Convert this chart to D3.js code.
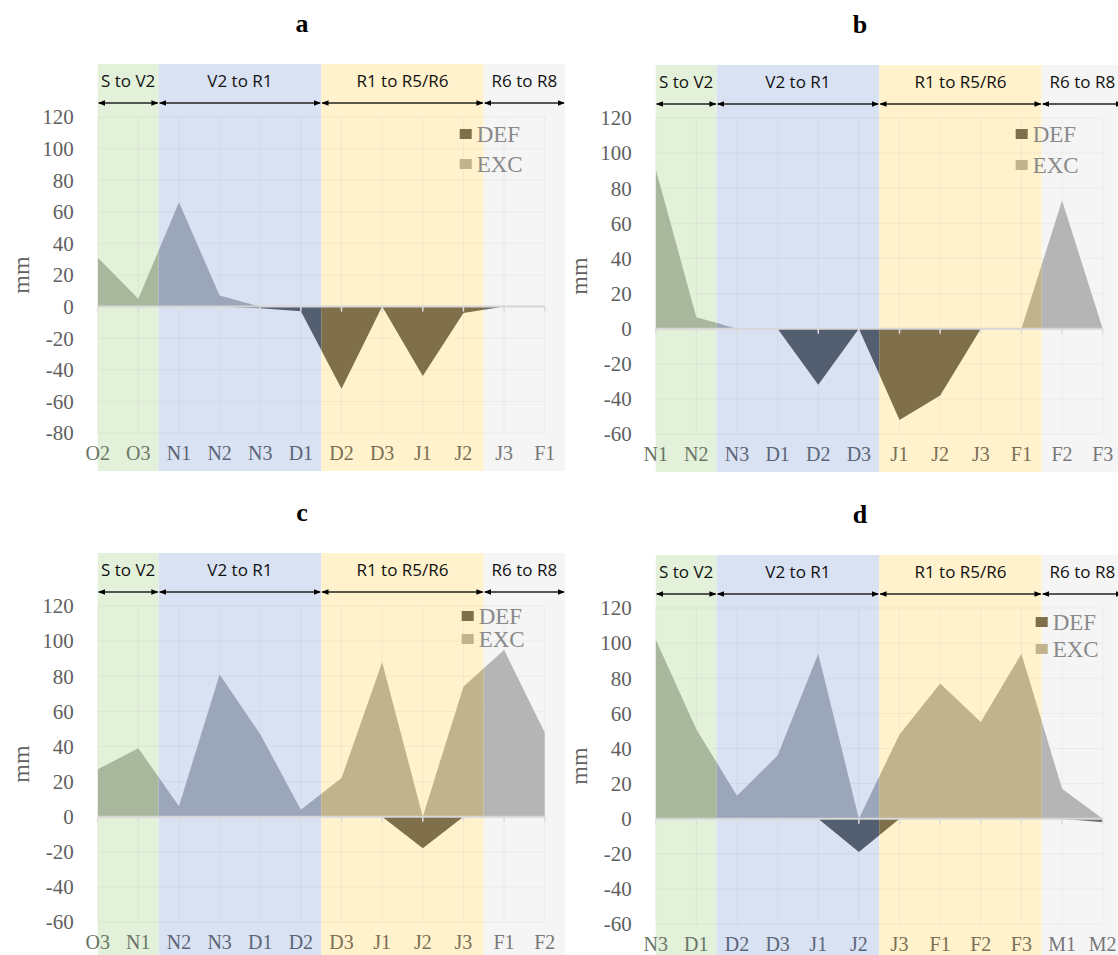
<!DOCTYPE html>
<html>
<head>
<meta charset="utf-8">
<script src="https://cdn.jsdelivr.net/npm/d3@7"></script>
<style>
  body { margin: 0; background: #fff; }
  svg { display: block; }
</style>
</head>
<body>
<div class="canvas"></div>
<script>
// ---- data ----
const catsA = ["O2","O3","N1","N2","N3","D1","D2","D3","J1","J2","J3","F1"];
const excA  = [31, 5, 66, 7, 0, 0, 0, 0, 0, 0, 0, 0];
const defA  = [0, 0, 0, 0, -1, -3, -52, 0, -44, -4, 0, 0];

const catsB = ["N1","N2","N3","D1","D2","D3","J1","J2","J3","F1","F2","F3"];
const excB  = [91, 6.5, 0, 0, 0, 0, 0, 0, 0, 0, 73, 0];
const defB  = [0, 0, 0, 0, -32, 0, -52, -38, 0, 0, 0, 0];

const catsC = ["O3","N1","N2","N3","D1","D2","D3","J1","J2","J3","F1","F2"];
const excC  = [27, 39, 6, 81, 47, 4, 22, 88, 0, 74, 95, 48];
const defC  = [0, 0, 0, 0, 0, 0, 0, 0, -18, 0, 0, 0];

const catsD = ["N3","D1","D2","D3","J1","J2","J3","F1","F2","F3","M1","M2"];
const excD  = [102, 51, 13, 36, 94, 0, 48, 77, 55, 94, 17, 0];
const defD  = [0, 0, 0, 0, 0, -19, 0, 0, 0, 0, 0, -2];

const ticksA = [120, 100, 80, 60, 40, 20, 0, -20, -40, -60, -80];
const ticksB = [120, 100, 80, 60, 40, 20, 0, -20, -40, -60];

const stageNames = ["S to V2", "V2 to R1", "R1 to R5/R6", "R6 to R8"];
// stage limits in category steps (first point = 0)
const stageEdges = [0, 1.5, 5.5, 9.5, 11.5];
const seriesNames = ["DEF", "EXC"];

// ---- styles ----
const bandFill  = ["#e3f1da", "#d9e2f3", "#fff2cc", "#f5f5f5"];
const excFill   = ["#a9b89c", "#9ba6ba", "#c1b38c", "#b5b5b5"];
const defFill   = ["#5d6a55", "#535e70", "#7f704b", "#707070"];
const labelFill = ["#6a7566", "#5c6577", "#7a6f55", "#777777"];

const width = 1118, height = 955;
const plotW = 447, plotH = 316;

const panels = [
  {id: "a", cats: catsA, exc: excA, def: defA, ticks: ticksA, ox: 0,   top: 117, leg: [362, 17, 47]},
  {id: "b", cats: catsB, exc: excB, def: defB, ticks: ticksB, ox: 558, top: 118, leg: [360, 16, 47]},
  {id: "c", cats: catsC, exc: excC, def: defC, ticks: ticksB, ox: 0,   top: 606, leg: [364, 10, 33]},
  {id: "d", cats: catsD, exc: excD, def: defD, ticks: ticksB, ox: 558, top: 608, leg: [380, 14, 41]}
];

const svg = d3.select(".canvas")
  .append("svg")
  .attr("width", width)
  .attr("height", height);

const defs = svg.append("defs");
defs.append("marker")
  .attr("id", "arrow")
  .attr("viewBox", "0 0 10 10")
  .attr("refX", 9).attr("refY", 5)
  .attr("markerWidth", 7).attr("markerHeight", 7)
  .attr("markerUnits", "userSpaceOnUse")
  .attr("orient", "auto-start-reverse")
  .append("path")
  .attr("d", "M0,1 L10,5 L0,9 Z")
  .attr("fill", "#000");

const serif = "'Liberation Serif', 'Times New Roman', serif";

panels.forEach(p => {
  const x0 = 97.7 + p.ox;
  const bottom = p.top + plotH;
  const n = p.cats.length;

  const x = d3.scalePoint().domain(p.cats).range([x0, x0 + plotW]);
  const xi = d3.scaleLinear().domain([0, n - 1]).range([x0, x0 + plotW]);
  const y = d3.scaleLinear()
    .domain([d3.min(p.ticks), d3.max(p.ticks)])
    .range([bottom, p.top]);

  const g = svg.append("g");
  const bandTop = p.top - 53;
  const bandBottom = bottom + 38;
  const bandOf = px => {
    for (let b = 0; b < 4; b++) if (px < xi(stageEdges[b + 1])) return b;
    return 3;
  };

  // stage backgrounds
  g.selectAll(".band")
    .data(stageNames)
    .enter()
    .append("rect")
    .attr("x", (d, i) => xi(stageEdges[i]))
    .attr("width", (d, i) => xi(stageEdges[i + 1]) - xi(stageEdges[i]))
    .attr("y", bandTop)
    .attr("height", bandBottom - bandTop)
    .attr("fill", (d, i) => bandFill[i]);

  // grid
  g.selectAll(".hgrid")
    .data(p.ticks)
    .enter()
    .append("line")
    .attr("x1", x0).attr("x2", x0 + plotW)
    .attr("y1", d => y(d)).attr("y2", d => y(d))
    .attr("stroke", "#000").attr("stroke-opacity", 0.045);
  g.selectAll(".vgrid")
    .data(p.cats)
    .enter()
    .append("line")
    .attr("x1", d => x(d)).attr("x2", d => x(d))
    .attr("y1", p.top).attr("y2", bottom)
    .attr("stroke", "#000").attr("stroke-opacity", 0.045);

  // areas, coloured by the stage they fall in
  const exc = d3.area().x((d, i) => xi(i)).y0(y(0)).y1(d => y(d));
  stageNames.forEach((s, b) => {
    const cid = `clip-${p.id}-${b}`;
    defs.append("clipPath").attr("id", cid)
      .append("rect")
      .attr("x", xi(stageEdges[b])).attr("y", 0)
      .attr("width", xi(stageEdges[b + 1]) - xi(stageEdges[b]))
      .attr("height", height);
    const cg = g.append("g").attr("clip-path", `url(#${cid})`);
    cg.append("path").datum(p.exc).attr("d", exc).attr("fill", excFill[b]);
    cg.append("path").datum(p.def).attr("d", exc).attr("fill", defFill[b]);
  });

  // zero line with ticks
  g.append("line")
    .attr("x1", x0).attr("x2", x0 + plotW)
    .attr("y1", y(0)).attr("y2", y(0))
    .attr("stroke", "#d6d6d6").attr("stroke-width", 2);
  g.selectAll(".ztick")
    .data(p.cats)
    .enter()
    .append("line")
    .attr("x1", d => x(d)).attr("x2", d => x(d))
    .attr("y1", y(0)).attr("y2", y(0) + 5)
    .attr("stroke", "#dcdcdc").attr("stroke-width", 1.5);

  // y labels
  g.selectAll(".ylab")
    .data(p.ticks)
    .enter()
    .append("text")
    .attr("x", x0 - 24)
    .attr("y", d => y(d))
    .attr("dy", "0.35em")
    .attr("text-anchor", "end")
    .attr("font-family", serif)
    .attr("font-size", 21)
    .attr("fill", "#5f5f5f")
    .text(d => d);

  g.append("text")
    .attr("transform", `translate(${x0 - 77},${(p.top + bottom) / 2}) rotate(-90)`)
    .attr("dy", "0.35em")
    .attr("text-anchor", "middle")
    .attr("font-family", serif)
    .attr("font-size", 24)
    .attr("fill", "#5f5f5f")
    .text("mm");

  // x labels
  g.selectAll(".xlab")
    .data(p.cats)
    .enter()
    .append("text")
    .attr("x", d => x(d))
    .attr("y", bottom + 27)
    .attr("text-anchor", "middle")
    .attr("font-family", serif)
    .attr("font-size", 20)
    .attr("fill", d => labelFill[bandOf(x(d))])
    .text(d => d);

  // stage headers and arrows
  g.selectAll(".head")
    .data(stageNames)
    .enter()
    .append("text")
    .attr("x", (d, i) => (xi(stageEdges[i]) + xi(stageEdges[i + 1])) / 2)
    .attr("y", p.top - 30)
    .attr("text-anchor", "middle")
    .attr("font-family", "'Open Sans', sans-serif")
    .attr("font-size", 17)
    .attr("fill", "#111")
    .text(d => d);
  g.selectAll(".arr")
    .data(stageNames)
    .enter()
    .append("line")
    .attr("x1", (d, i) => xi(stageEdges[i]) + 1)
    .attr("x2", (d, i) => xi(stageEdges[i + 1]) - 1)
    .attr("y1", p.top - 14).attr("y2", p.top - 14)
    .attr("stroke", "#222").attr("stroke-width", 1.3)
    .attr("marker-start", "url(#arrow)")
    .attr("marker-end", "url(#arrow)");

  // legend
  const lx = x0 + p.leg[0];
  const lb = bandOf(lx + 6);
  seriesNames.forEach((s, k) => {
    const ly = p.top + p.leg[1 + k];
    g.append("rect")
      .attr("x", lx).attr("y", ly - 5)
      .attr("width", 12).attr("height", 10)
      .attr("fill", k === 0 ? defFill[lb] : excFill[lb]);
    g.append("text")
      .attr("x", lx + 17).attr("y", ly)
      .attr("dy", "0.35em")
      .attr("font-family", serif)
      .attr("font-size", 23)
      .attr("fill", "#8a8a8a")
      .text(s);
  });

  // panel letter
  g.append("text")
    .attr("x", p.ox + 302)
    .attr("y", p.top - 85)
    .attr("text-anchor", "middle")
    .attr("font-family", serif)
    .attr("font-weight", "bold")
    .attr("font-size", 26)
    .text(p.id);
});
</script>
</body>
</html>
